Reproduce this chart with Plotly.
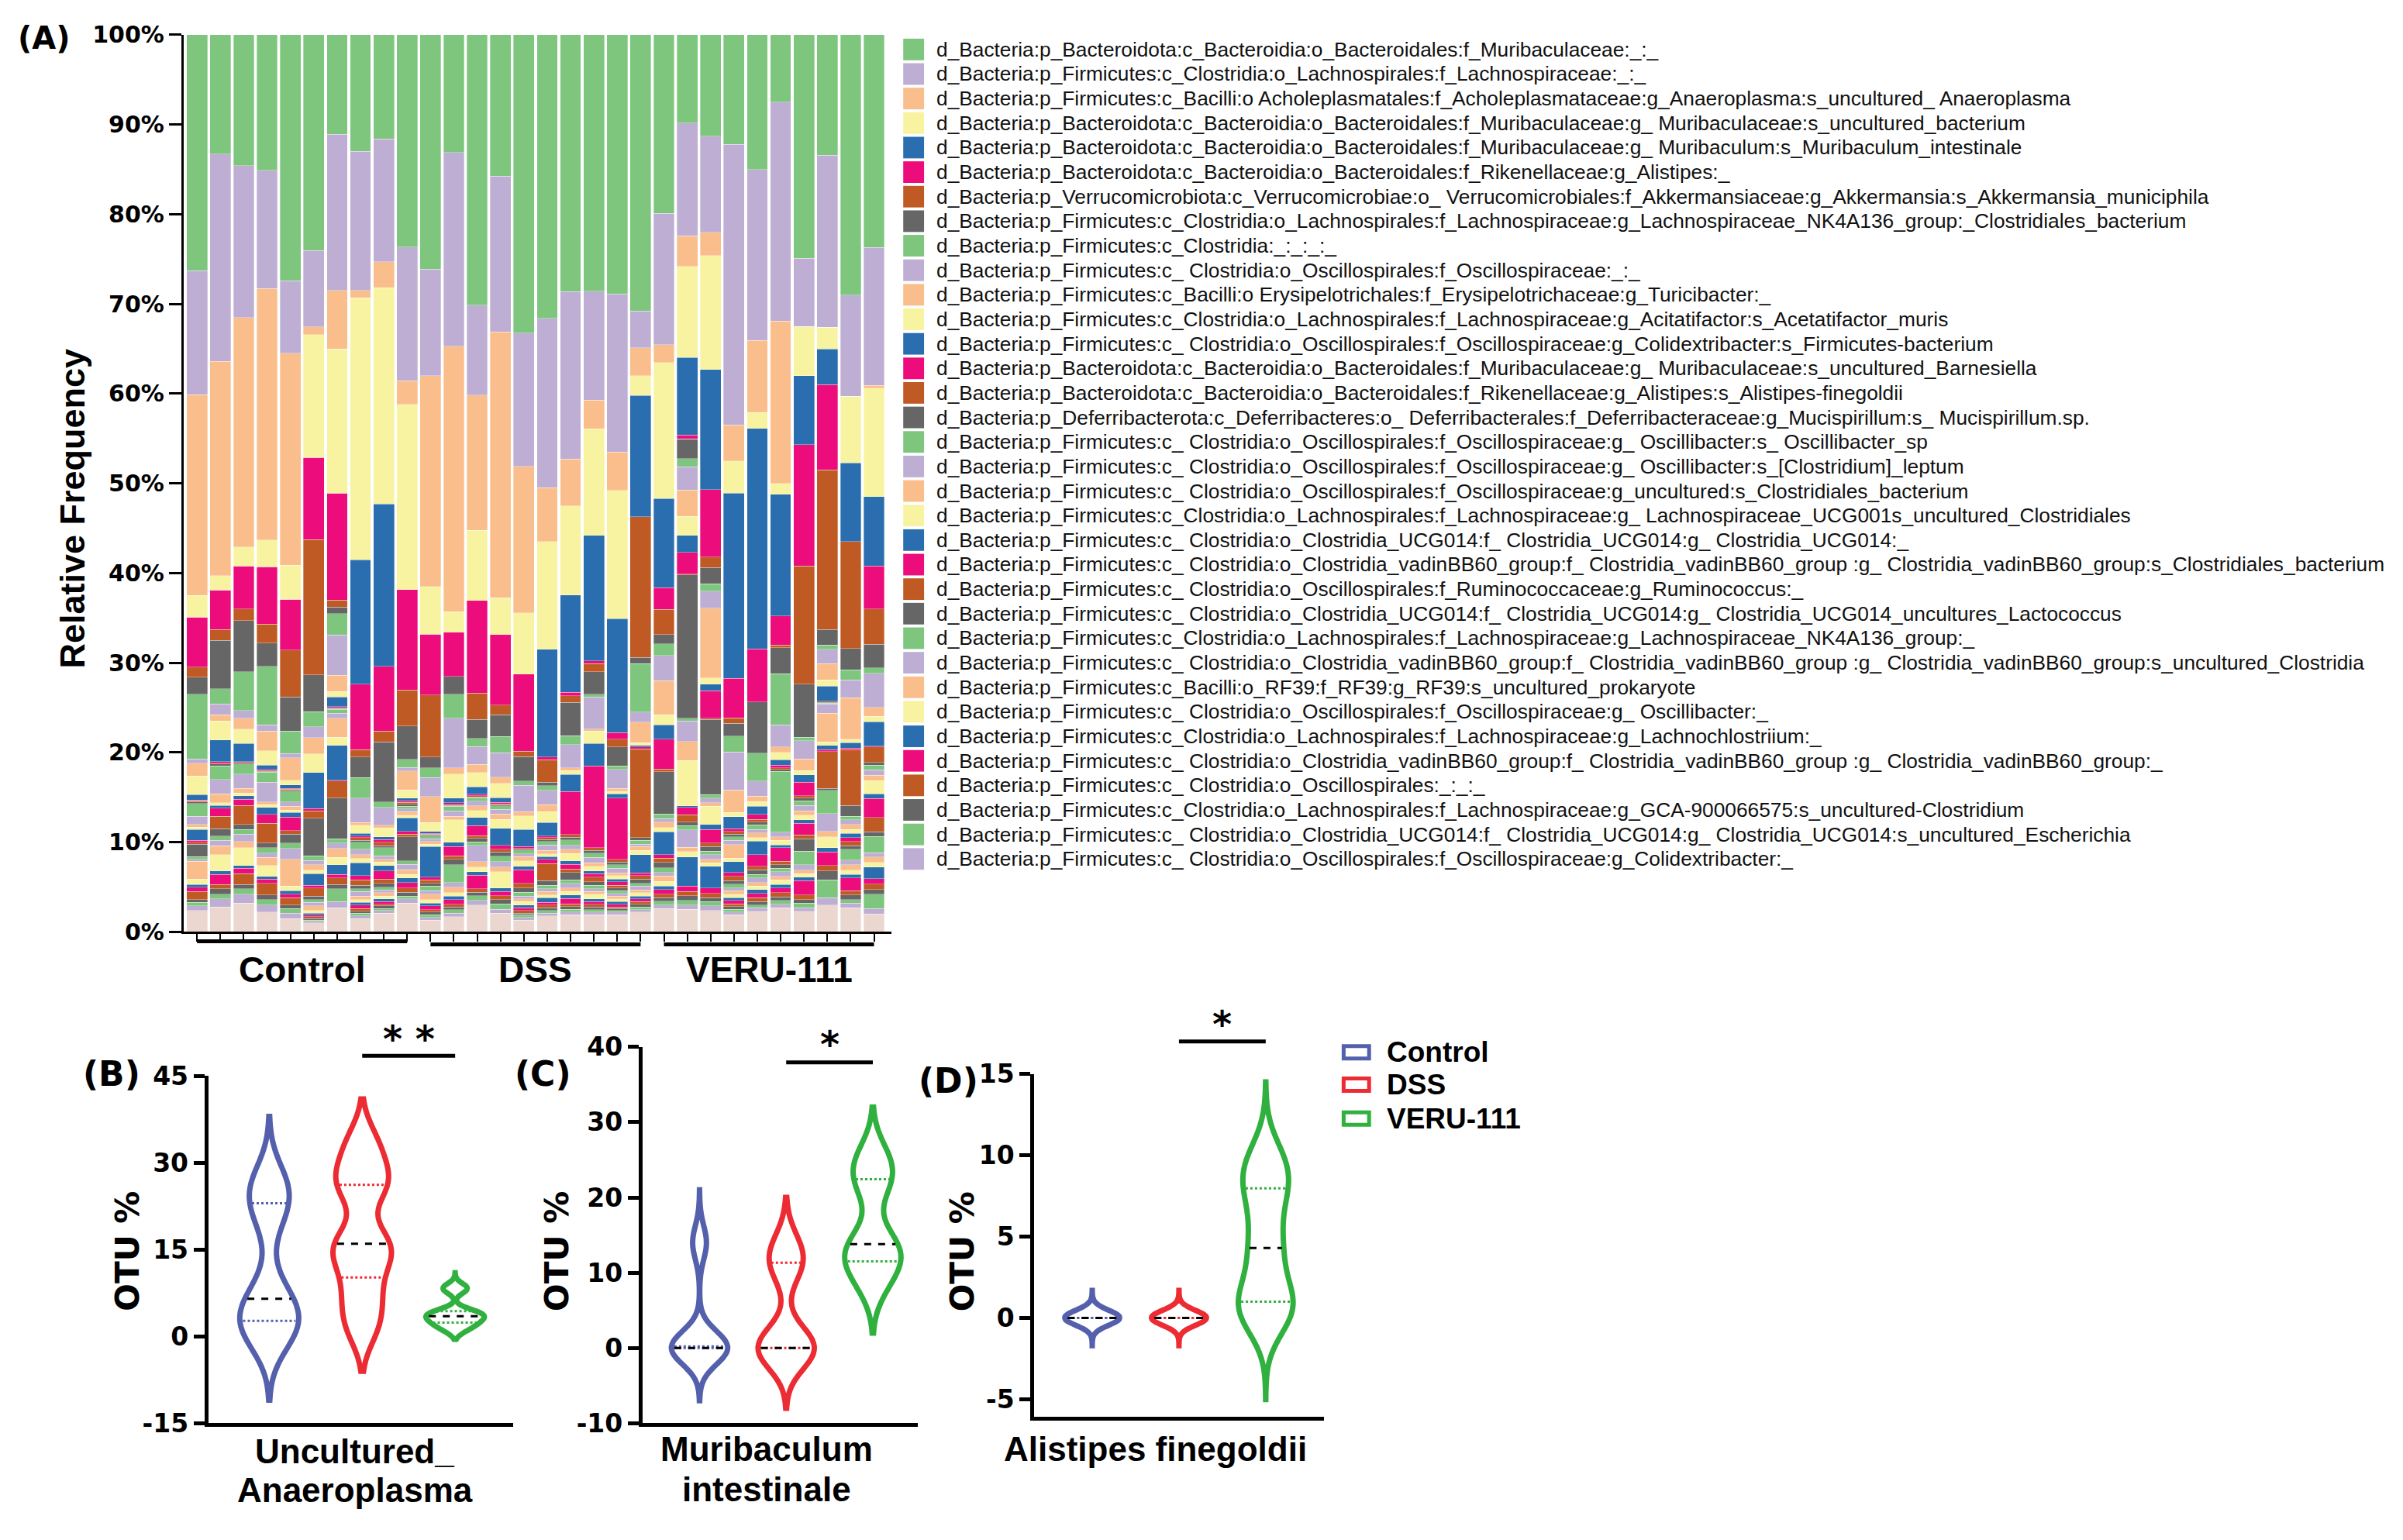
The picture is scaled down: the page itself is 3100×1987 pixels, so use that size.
import numpy as np
import plotly.graph_objects as go

W, H = 3100, 1987
# calibration from reference pixel positions to layout fractions
def px(x): return ((x - 8) / 1.005) / W
def py(y): return 1 - ((y - 26) / 0.985) / H

# ---------------- DATA: panel A (relative frequency, %) ----------------
TAXA = [
 "d_Bacteria:p_Bacteroidota:c_Bacteroidia:o_Bacteroidales:f_Muribaculaceae:_:_",
 "d_Bacteria:p_Firmicutes:c_Clostridia:o_Lachnospirales:f_Lachnospiraceae:_:_",
 "d_Bacteria:p_Firmicutes:c_Bacilli:o Acholeplasmatales:f_Acholeplasmataceae:g_Anaeroplasma:s_uncultured_ Anaeroplasma",
 "d_Bacteria:p_Bacteroidota:c_Bacteroidia:o_Bacteroidales:f_Muribaculaceae:g_ Muribaculaceae:s_uncultured_bacterium",
 "d_Bacteria:p_Bacteroidota:c_Bacteroidia:o_Bacteroidales:f_Muribaculaceae:g_ Muribaculum:s_Muribaculum_intestinale",
 "d_Bacteria:p_Bacteroidota:c_Bacteroidia:o_Bacteroidales:f_Rikenellaceae:g_Alistipes:_",
 "d_Bacteria:p_Verrucomicrobiota:c_Verrucomicrobiae:o_ Verrucomicrobiales:f_Akkermansiaceae:g_Akkermansia:s_Akkermansia_municiphila",
 "d_Bacteria:p_Firmicutes:c_Clostridia:o_Lachnospirales:f_Lachnospiraceae:g_Lachnospiraceae_NK4A136_group:_Clostridiales_bacterium",
 "d_Bacteria:p_Firmicutes:c_Clostridia:_:_:_:_",
 "d_Bacteria:p_Firmicutes:c_ Clostridia:o_Oscillospirales:f_Oscillospiraceae:_:_",
 "d_Bacteria:p_Firmicutes:c_Bacilli:o Erysipelotrichales:f_Erysipelotrichaceae:g_Turicibacter:_",
 "d_Bacteria:p_Firmicutes:c_Clostridia:o_Lachnospirales:f_Lachnospiraceae:g_Acitatifactor:s_Acetatifactor_muris",
 "d_Bacteria:p_Firmicutes:c_ Clostridia:o_Oscillospirales:f_Oscillospiraceae:g_Colidextribacter:s_Firmicutes-bacterium",
 "d_Bacteria:p_Bacteroidota:c_Bacteroidia:o_Bacteroidales:f_Muribaculaceae:g_ Muribaculaceae:s_uncultured_Barnesiella",
 "d_Bacteria:p_Bacteroidota:c_Bacteroidia:o_Bacteroidales:f_Rikenellaceae:g_Alistipes:s_Alistipes-finegoldii",
 "d_Bacteria:p_Deferribacterota:c_Deferribacteres:o_ Deferribacterales:f_Deferribacteraceae:g_Mucispirillum:s_ Mucispirillum.sp.",
 "d_Bacteria:p_Firmicutes:c_ Clostridia:o_Oscillospirales:f_Oscillospiraceae:g_ Oscillibacter:s_ Oscillibacter_sp",
 "d_Bacteria:p_Firmicutes:c_ Clostridia:o_Oscillospirales:f_Oscillospiraceae:g_ Oscillibacter:s_[Clostridium]_leptum",
 "d_Bacteria:p_Firmicutes:c_ Clostridia:o_Oscillospirales:f_Oscillospiraceae:g_uncultured:s_Clostridiales_bacterium",
 "d_Bacteria:p_Firmicutes:c_Clostridia:o_Lachnospirales:f_Lachnospiraceae:g_ Lachnospiraceae_UCG001s_uncultured_Clostridiales",
 "d_Bacteria:p_Firmicutes:c_ Clostridia:o_Clostridia_UCG014:f_ Clostridia_UCG014:g_ Clostridia_UCG014:_",
 "d_Bacteria:p_Firmicutes:c_ Clostridia:o_Clostridia_vadinBB60_group:f_ Clostridia_vadinBB60_group :g_ Clostridia_vadinBB60_group:s_Clostridiales_bacterium",
 "d_Bacteria:p_Firmicutes:c_ Clostridia:o_Oscillospirales:f_Ruminococcaceae:g_Ruminococcus:_",
 "d_Bacteria:p_Firmicutes:c_ Clostridia:o_Clostridia_UCG014:f_ Clostridia_UCG014:g_ Clostridia_UCG014_uncultures_Lactococcus",
 "d_Bacteria:p_Firmicutes:c_Clostridia:o_Lachnospirales:f_Lachnospiraceae:g_Lachnospiraceae_NK4A136_group:_",
 "d_Bacteria:p_Firmicutes:c_ Clostridia:o_Clostridia_vadinBB60_group:f_ Clostridia_vadinBB60_group :g_ Clostridia_vadinBB60_group:s_uncultured_Clostridia",
 "d_Bacteria:p_Firmicutes:c_Bacilli:o_RF39:f_RF39:g_RF39:s_uncultured_prokaryote",
 "d_Bacteria:p_Firmicutes:c_ Clostridia:o_Oscillospirales:f_Oscillospiraceae:g_ Oscillibacter:_",
 "d_Bacteria:p_Firmicutes:c_Clostridia:o_Lachnospirales:f_Lachnospiraceae:g_Lachnochlostriium:_",
 "d_Bacteria:p_Firmicutes:c_ Clostridia:o_Clostridia_vadinBB60_group:f_ Clostridia_vadinBB60_group :g_ Clostridia_vadinBB60_group:_",
 "d_Bacteria:p_Firmicutes:c_ Clostridia:o_Oscillospirales:_:_:_",
 "d_Bacteria:p_Firmicutes:c_Clostridia:o_Lachnospirales:f_Lachnospiraceae:g_GCA-900066575:s_uncultured-Clostridium",
 "d_Bacteria:p_Firmicutes:c_ Clostridia:o_Clostridia_UCG014:f_ Clostridia_UCG014:g_ Clostridia_UCG014:s_uncultured_Escherichia",
 "d_Bacteria:p_Firmicutes:c_ Clostridia:o_Oscillospirales:f_Oscillospiraceae:g_Colidextribacter:_",
]
OTHERS_NAME = "Others"

GROUPS = ["Control", "DSS", "VERU-111"]
Y_TICKS_A = [0, 10, 20, 30, 40, 50, 60, 70, 80, 90, 100]
Y_TICK_LABELS_A = ["0%", "10%", "20%", "30%", "40%", "50%", "60%", "70%", "80%", "90%", "100%"]

# each row: one sample, 34 legend taxa (top of stack first) + others
CONTROL_SAMPLES = [
 [26.3,13.8,22.4,2.4,0,5.6,1.1,1.9,7.2,0.5,1.4,2.1,0.6,0.1,0.1,0.2, 1.4,0.9,0.3,0.3,1.2,0.2,0.2,1.4,0.3,0.2,2.0,0.6,0.3,0.5,0.9,0.3,0.4,0.5, 2.4],
 [13.3,23.1,23.9,1.6,0,4.4,1.2,5.4,1.7,1.2,0.7,2.1,2.4,0.2,0.1,0.2, 1.5,1.6,1.0,0.3,0.3,0.9,1.4,0.8,0.5,0.6,1.0,1.8,0.4,1.1,0.5,0.6,0.5,0.9, 2.8],
 [14.6,16.9,25.6,2.1,0,4.8,1.3,5.7,4.3,0.9,1.2,1.6,2.0,0.1,0.1,0.1, 1.1,1.6,0.5,0.3,0.4,0.7,2.1,0.6,0.5,0.8,0.7,2.0,0.3,0.6,1.2,0.5,0.6,1.0, 3.2],
 [15.1,13.2,28.0,3.0,0,6.4,2.1,2.6,6.5,0.7,2.2,1.6,0.5,0.1,0.1,0.1, 1.1,2.2,0.3,0.3,0.8,1.0,2.2,0.5,0.6,0.5,0.9,1.2,0.3,0.5,1.3,0.5,0.6,0.8, 2.2],
 [27.4,8.1,23.6,3.8,0,5.7,5.2,3.8,2.5,0.5,2.5,0.5,0.4,0.1,0.1,0.1, 1.2,0.5,0.4,0.3,0.5,1.5,0.4,1.0,0.6,1.2,3.0,0.5,0.4,0.4,0.8,0.4,0.5,0.6, 1.5],
 [24.1,8.5,0.9,13.7,0,9.2,15.1,4.1,1.7,1.2,1.8,2.1,4.0,0.3,0.8,4.2, 0.5,0.5,0.6,0.4,1.3,0.3,0.9,0.4,0.3,0.4,0.5,0.3,0.2,0.2,0.2,0.2,0.1,0.2, 1.0],
 [11.1,17.4,6.5,16.1,0,11.9,0.8,0.7,2.4,4.5,1.8,0.6,1.1,0.1,0.1,0.1, 0.4,0.6,2.1,0.9,3.9,0.1,1.9,4.5,0.5,0.6,1.0,0.8,1.1,0.4,0.7,0.5,1.4,0.7, 2.7],
 [13.0,15.5,0.8,29.2,13.9,7.3,0.8,2.3,2.3,2.7,0.3,0.9,0.3,0.2,0.3,0.2, 0.8,0.6,0.4,0.5,1.4,0.5,0.6,0.4,0.3,0.5,0.4,0.3,0.3,0.4,0.3,0.2,0.3,0.3, 1.5],
 [11.6,13.7,2.9,24.1,18.1,7.2,1.2,6.7,0.6,2.0,0.3,1.0,0.3,0.3,0.4,0.2, 0.9,0.4,0.3,0.4,0.6,0.9,0.5,0.4,0.3,0.3,0.4,0.3,0.3,0.3,0.2,0.3,0.2,0.3, 2.1],
 [23.6,14.9,2.6,20.6,0,11.2,4.0,3.7,0.9,0.4,2.1,0.9,0.3,0.2,0.2,0.2, 0.3,0.3,0.4,0.3,1.5,0.3,0.3,2.7,0.4,0.6,0.5,0.4,0.5,0.6,0.5,0.4,0.3,0.5, 3.2],
]
DSS_SAMPLES = [
 [26.1,11.9,23.5,5.3,0,6.8,6.9,1.2,1.1,2.1,2.9,1.0,0.2,0.1,0.1,0.1, 0.3,0.3,0.3,0.3,3.4,0.3,0.4,0.3,0.5,0.4,0.6,0.4,0.3,0.4,0.3,0.3,0.3,0.3, 1.3],
 [13.1,21.6,29.6,2.3,0,4.9,0,2.0,2.7,5.5,0.7,2.7,0.5,0.2,0.1,0.1, 0.5,0.6,0.4,2.5,0.5,1.0,0.4,0.6,2.0,0.5,0.6,0.4,0.4,0.5,0.3,0.3,0.4,0.4, 1.7],
 [30.0,10.0,15.0,7.8,0,10.3,2.9,2.1,0.9,2.0,0.9,1.6,0.8,0.2,0.1,0.1, 0.4,0.5,0.5,0.8,0.9,1.1,0.3,0.4,0.4,1.8,0.6,0.5,0.4,1.5,0.4,0.4,0.5,0.5, 3.0],
 [15.7,17.3,29.5,4.1,0,7.8,1.1,2.4,1.8,2.7,0.7,1.6,0.5,0.2,0.1,0.1, 0.4,0.5,0.6,1.0,1.9,0.4,0.3,0.5,0.6,0.6,0.5,1.8,0.4,0.5,0.4,0.5,0.6,0.4, 2.1],
 [33.2,14.8,16.3,6.8,0,8.6,0.6,2.7,0.5,2.9,0.5,1.5,1.9,0.2,0.1,0.1, 0.4,0.3,0.5,0.6,0.4,1.5,0.5,0.5,0.4,0.3,0.3,0.4,0.3,0.3,0.3,0.2,0.3,0.3, 1.3],
 [31.6,18.9,6.0,12.0,12.0,0.3,2.5,0.4,0.5,1.6,0.8,1.2,1.5,0.2,0.2,0.2, 0.4,0.6,0.4,0.3,0.3,0.5,1.9,0.5,0.4,0.3,0.4,0.3,0.5,0.3,0.3,0.3,0.3,0.3, 1.8],
 [28.5,18.6,5.2,9.9,10.8,0.4,0.7,3.7,1.0,2.6,0.3,0.4,1.9,4.8,0.3,0.3, 0.6,0.4,0.5,0.8,0.4,0.5,0.4,0.8,0.4,0.5,0.4,0.4,0.4,0.6,0.3,0.3,0.3,0.3, 1.9],
 [28.6,12.1,3.2,11.9,14.0,0.3,0.9,2.5,0.3,3.6,0.2,1.4,2.5,9.1,0.3,0.3, 0.5,0.6,0.4,0.5,0.3,0.4,0.5,0.4,0.4,0.3,0.3,0.5,0.3,0.3,0.3,0.3,0.3,0.3, 1.9],
 [28.9,17.6,4.3,14.3,12.7,0.7,0.9,2.1,0.4,2.1,0.3,0.3,0.5,6.8,0.3,0.3, 0.4,0.5,0.3,0.4,0.3,0.4,0.3,0.3,0.3,0.3,0.3,0.3,0.3,0.3,0.2,0.2,0.2,0.3, 1.9],
 [30.8,4.1,3.1,2.2,13.5,0,15.7,0.7,5.4,1.1,2.3,0.3,0.2,0.2,9.9,0.3, 0.4,0.3,0.4,0.5,2.0,0.3,0.4,0.5,0.3,0.4,0.3,0.4,0.3,0.3,0.3,0.3,0.3,0.3, 2.2],
]
VERU_SAMPLES = [
 [19.8,14.6,2.0,15.1,9.9,2.4,2.8,1.0,1.3,2.8,3.8,1.1,1.6,3.3,0.3,4.7, 0.5,0.4,0.6,0.5,2.5,0.4,0.5,0.6,0.5,0.4,0.6,0.5,0.4,0.5,0.4,0.4,0.4,0.4, 2.6],
 [9.8,12.5,3.4,10.1,8.6,0.4,0,2.2,0.9,2.6,2.9,2.1,1.9,2.4,0.1,15.9, 0.3,2.3,2.1,5.0,0.2,0.8,0.8,0.4,0.5,1.9,0.5,0.6,3.2,0.6,0.5,0.5,0.5,0.5, 2.5],
 [11.3,10.7,2.6,12.7,13.4,7.5,1.2,1.8,0.8,1.9,7.8,0.7,0.7,3.1,0.1,8.4, 0.4,0.5,0.4,2.0,0.6,1.5,0.4,0.5,0.4,0.5,0.4,0.4,2.4,0.6,0.5,0.4,0.5,0.5, 2.4],
 [12.2,31.2,4.0,3.6,20.6,4.4,0.6,1.4,1.8,4.2,2.5,0.5,1.3,0.3,0.3,0.3, 0.4,0.5,1.5,0.4,1.2,0.4,0.5,0.4,0.4,0.3,0.4,0.4,0.3,0.4,0.3,0.3,0.3,0.3, 1.9],
 [15.0,19.0,8.0,1.8,24.5,5.9,0,5.7,3.1,1.7,0.6,0.5,0.9,0.6,0.3,0.3, 0.5,0.4,0.5,0.4,1.5,1.3,0.4,0.5,0.4,0.5,0.4,0.4,0.4,0.5,0.4,0.4,0.3,0.4, 2.3],
 [7.5,24.4,18.1,1.2,13.6,3.2,0.3,2.9,5.7,2.5,0.6,0.8,0.6,0.3,0.2,0.2, 6.8,0.5,0.4,0.5,0.3,1.5,0.4,0.4,0.4,0.5,0.4,0.5,0.4,0.5,0.5,0.4,0.4,0.4, 2.7],
 [24.9,7.6,0,5.5,7.7,13.5,13.2,5.9,0.4,2.0,1.3,0.5,0.8,1.5,0.3,0.3, 0.5,0.6,0.5,0.5,0.4,1.3,0.4,1.4,1.5,0.6,0.4,0.4,0.4,1.6,0.5,0.4,0.5,0.4, 2.3],
 [13.4,19.2,0,2.4,4.0,9.5,17.8,1.7,0.5,1.6,1.8,0.7,1.7,0,0.1,0.1, 0.1,1.0,3.2,0.4,0.5,0.2,4.1,0.2,2.6,2.0,0.6,1.2,0.5,1.5,0.6,1.0,2.0,0.8, 3.0],
 [29.0,11.3,0,7.4,8.8,0,11.9,2.4,1.1,2.0,4.6,0.4,0.6,0.2,6.2,1.2, 0.4,0.5,0.6,0.4,0.5,0.4,0.5,0.4,1.2,0.5,0.6,0.5,0.4,1.4,0.5,0.5,0.4,0.5, 2.7],
 [23.6,15.3,0.3,12.0,7.7,4.8,3.9,2.6,0.6,3.8,1.0,0.6,2.7,0.1,1.7,0.3, 0.5,0.6,0.6,1.5,0.5,2.1,1.6,0.5,1.8,0.5,0.6,0.5,1.3,0.6,0.6,0.5,1.6,0.6, 2.0],
]

# ---------------- DATA: panels B-D (OTU %, 10 mice per group) ----------------
ANAEROPLASMA_CONTROL = [0.0, 1.0, 2.2, 4.2, 5.0, 8.0, 20.0, 24.0, 25.0, 27.0]
ANAEROPLASMA_DSS     = [1.0, 5.0, 9.0, 13.8, 15.0, 17.0, 25.5, 26.4, 30.0, 34.0]
ANAEROPLASMA_VERU    = [1.0, 2.0, 2.2, 3.0, 3.3, 3.7, 4.0, 4.5, 8.0, 8.6]
MURIBACULUM_CONTROL  = [0, 0, 0, 0, 0, 0, 0.0, 0.3, 13.5, 14.5]
MURIBACULUM_DSS      = [0, 0, 0, 0, 0, 0, 10.5, 11.6, 12.0, 14.0]
MURIBACULUM_VERU     = [8.0, 10.5, 11.0, 13.0, 13.5, 14.1, 21.0, 22.9, 24.0, 26.0]
ALISTIPES_CONTROL    = [0, 0, 0, 0, 0, 0, 0, 0, 0, 0.2]
ALISTIPES_DSS        = [0, 0, 0, 0, 0, 0, 0, 0, 0, 0.15]
ALISTIPES_VERU       = [0.0, 0.5, 0.8, 1.6, 3.8, 4.8, 7.0, 8.3, 9.0, 10.0]

B_TICKS = [-15, 0, 15, 30, 45]
C_TICKS = [-10, 0, 10, 20, 30, 40]
D_TICKS = [-5, 0, 5, 10, 15]

# ---------------- STYLE ----------------
ACCENT = ["#7ec67e", "#beaed3", "#fabe8c", "#f8f3a0", "#2a6eaf", "#ec0c7b", "#c05a24", "#666666"]
TAXA_COLORS = [ACCENT[i % 8] for i in range(len(TAXA))]
OTHERS_COLOR = "#ecd6d0"
GROUP_COLORS = {"Control": "#5560ad", "DSS": "#ec2b32", "VERU-111": "#30b13f"}
BOLDWIDE = "DejaVu Sans"
ARIAL = "Liberation Sans"

fig = go.Figure()

# ---------------- Panel A: stacked bars ----------------
rows = CONTROL_SAMPLES + DSS_SAMPLES + VERU_SAMPLES
xpos = list(range(len(rows)))
names = TAXA + [OTHERS_NAME]
colors = TAXA_COLORS + [OTHERS_COLOR]
for k in reversed(range(len(names))):
    fig.add_trace(go.Bar(
        x=xpos, y=[r[k] for r in rows], name=names[k],
        marker=dict(color=colors[k], line=dict(color="rgba(255,255,255,0.55)", width=0.6)),
        showlegend=False, xaxis="x", yaxis="y"))

# ---------------- Panels B-D: violins ----------------
def kde(vals, bw, grid):
    v = np.asarray(vals, float)
    return np.exp(-0.5 * ((grid[:, None] - v[None, :]) / bw) ** 2).sum(axis=1)

panels = [
    ("x2", "y2", [ANAEROPLASMA_CONTROL, ANAEROPLASMA_DSS, ANAEROPLASMA_VERU],
     [4.5, 3.5, 0.8], [[-11, 38], [-6, 41], [-0.5, 11]], 0.63),
    ("x3", "y3", [MURIBACULUM_CONTROL, MURIBACULUM_DSS, MURIBACULUM_VERU],
     [2.2, 2.8, 2.8], [[-7, 21], [-8, 20], [2, 32]], 0.65),
    ("x4", "y4", [ALISTIPES_CONTROL, ALISTIPES_DSS, ALISTIPES_VERU],
     [0.45, 0.45, 1.6], [[-1.7, 1.7], [-1.7, 1.7], [-5, 14.5]], 0.63),
]
for pi, (xa, ya, datasets, bws, spans, vw) in enumerate(panels):
    for gi, (g, vals) in enumerate(zip(GROUPS, datasets)):
        c = GROUP_COLORS[g]
        fig.add_trace(go.Violin(
            y=vals, x0=gi, name=g, xaxis=xa, yaxis=ya, legendgroup=g,
            showlegend=False, line=dict(color=c, width=7),
            fillcolor="rgba(255,255,255,0)", points=False, bandwidth=bws[gi],
            spanmode="manual", span=spans[gi], width=vw, scalemode="width",
            hoveron="violins"))
        grid = np.linspace(spans[gi][0], spans[gi][1], 2000)
        dmax = kde(vals, bws[gi], grid).max()
        q1, med, q3 = np.percentile(vals, [25, 50, 75])
        for q, dash, col in [(q1, "dot", c), (q3, "dot", c), (med, "dash", "black")]:
            hw = 0.5 * vw * kde(vals, bws[gi], np.array([q]))[0] / dmax * 0.9
            fig.add_trace(go.Scatter(
                x=[gi - hw, gi + hw], y=[q, q], mode="lines", xaxis=xa, yaxis=ya,
                line=dict(color=col, width=3, dash=dash), showlegend=False,
                hoverinfo="skip"))

# ---------------- Layout ----------------
axis_common = dict(showgrid=False, zeroline=False, showline=True, linecolor="black")
layout = dict(
    width=W, height=H, margin=dict(l=0, r=0, t=0, b=0), showlegend=False,
    paper_bgcolor="white", plot_bgcolor="white",
    barmode="stack", barnorm="percent", bargap=0.11, violinmode="overlay",
    xaxis=dict(domain=[px(238), px(1156)], range=[-0.577, 29.756], **axis_common,
               linewidth=3, ticks="outside", tickvals=xpos, ticklen=10, tickwidth=2,
               tickcolor="black", showticklabels=False, anchor="y"),
    yaxis=dict(domain=[py(1207), py(44)], range=[0, 100], **axis_common, linewidth=3,
               ticks="outside", ticklen=16, tickwidth=3, tickcolor="black",
               tickmode="array", tickvals=Y_TICKS_A, ticktext=Y_TICK_LABELS_A,
               tickfont=dict(family=BOLDWIDE, size=30, color="black", weight="bold"),
               anchor="x"),
)
vax = [
    ("xaxis2", "yaxis2", [270, 665], [1393.6, 1844], [-0.656, 2.622], [-15, 45], B_TICKS),
    ("xaxis3", "yaxis3", [833, 1190], [1356, 1844], [-0.658, 2.52], [-10, 40], C_TICKS),
    ("xaxis4", "yaxis4", [1341, 1717], [1391, 1835.6], [-0.667, 2.676], [-6.07, 15], D_TICKS),
]
for xk, yk, xd, yd, xr, yr, tv in vax:
    layout[xk] = dict(domain=[px(xd[0]), px(xd[1])], range=xr, **axis_common, linewidth=5,
                      showticklabels=False, ticks="", anchor=yk.replace("yaxis", "y"))
    layout[yk] = dict(domain=[py(yd[1]), py(yd[0])], range=yr, **axis_common, linewidth=5,
                      ticks="outside", ticklen=14, tickwidth=5, tickcolor="black",
                      tickmode="array", tickvals=tv, ticktext=[str(t) for t in tv],
                      tickfont=dict(family=BOLDWIDE, size=33, color="black", weight="bold"),
                      anchor=xk.replace("xaxis", "x"))
fig.update_layout(**layout)

ann = []
shapes = []
# legend for panel A (34 entries)
for i, (name, col) in enumerate(zip(TAXA, TAXA_COLORS)):
    yc = 63 + 31.8 * i
    shapes.append(dict(type="rect", xref="paper", yref="paper", x0=px(1171), x1=px(1198),
                       y0=py(yc + 14), y1=py(yc - 14), fillcolor=col, line=dict(width=0)))
    ann.append(dict(text=name, xref="paper", yref="paper", x=px(1212), y=py(yc),
                    xanchor="left", yanchor="middle", showarrow=False,
                    font=dict(family=ARIAL, size=26.3, color="#111111")))

# legend for violins
for gi, g in enumerate(GROUPS):
    yc = [1363, 1405, 1449][gi]
    shapes.append(dict(type="rect", xref="paper", yref="paper", x0=px(1742), x1=px(1775),
                       y0=py(yc + 8), y1=py(yc - 8), fillcolor="white",
                       line=dict(color=GROUP_COLORS[g], width=5)))
    ann.append(dict(text=f"<b>{g}</b>", xref="paper", yref="paper", x=px(1796), y=py(yc),
                    xanchor="left", yanchor="middle", showarrow=False,
                    font=dict(family=ARIAL, size=37, color="black")))

# group brackets under panel A
for gi, g in enumerate(GROUPS):
    x0, x1 = gi * 10, gi * 10 + 9
    yb = 1219 if gi == 0 else 1223
    shapes.append(dict(type="line", xref="x", yref="paper", x0=x0, x1=x1,
                       y0=py(yb), y1=py(yb), line=dict(color="black", width=5)))
    ann.append(dict(text=f"<b>{g}</b>", xref="x", yref="paper", x=(x0 + x1) / 2, y=py(1256),
                    xanchor="center", yanchor="middle", showarrow=False,
                    font=dict(family=ARIAL, size=46, color="black")))

def A(text, x, y, size, family=BOLDWIDE, angle=0):
    ann.append(dict(text=text, xref="paper", yref="paper", x=px(x), y=py(y),
                    xanchor="center", yanchor="middle", showarrow=False, textangle=angle,
                    font=dict(family=family, size=size, color="black")))

A("<b>(A)</b>", 57, 48, 40)
A("<b>Relative Frequency</b>", 93, 658, 45, ARIAL, -90)
A("<b>(B)</b>", 145, 1391, 44)
A("<b>(C)</b>", 704, 1391, 44)
A("<b>(D)</b>", 1230, 1400, 44)
for xo in (165, 722, 1248):
    A("<b>OTU %</b>", xo, 1621, 42, BOLDWIDE, -90)
A("<b>Uncultured_</b>", 460, 1880, 44, ARIAL)
A("<b>Anaeroplasma</b>", 460, 1930, 44, ARIAL)
A("<b>Muribaculum</b>", 994, 1877, 44, ARIAL)
A("<b>intestinale</b>", 994, 1929, 44, ARIAL)
A("<b>Alistipes finegoldii</b>", 1498, 1877, 44, ARIAL)

# significance bars
for xr_, line_y, star_y, stars in [("x2", 1367.6, 1345, "* *"), ("x3", 1376, 1352, "*"), ("x4", 1349, 1326, "*")]:
    shapes.append(dict(type="line", xref=xr_, yref="paper", x0=1, x1=2, y0=py(line_y), y1=py(line_y),
                       line=dict(color="black", width=5)))
    ann.append(dict(text=f"<b>{stars}</b>", xref=xr_, yref="paper", x=1.5, y=py(star_y),
                    xanchor="center", yanchor="middle", showarrow=False,
                    font=dict(family=BOLDWIDE, size=48, color="black")))

fig.update_layout(annotations=ann, shapes=shapes)
fig.write_html("out.html")
